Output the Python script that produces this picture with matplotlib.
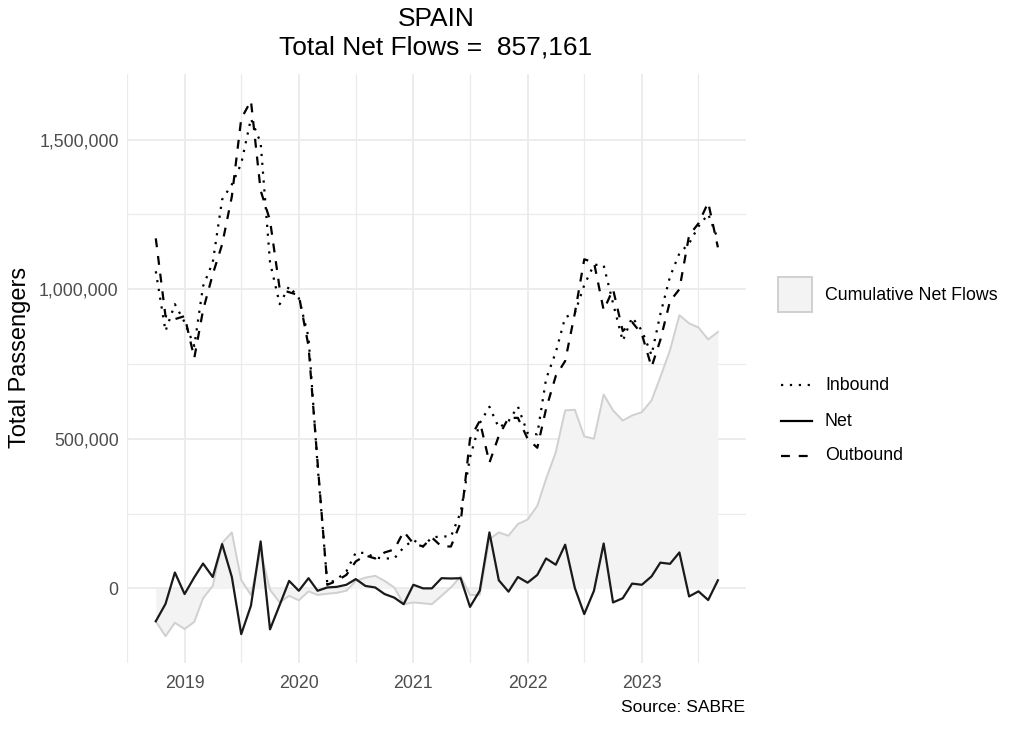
import matplotlib
matplotlib.use("Agg")
import matplotlib.pyplot as plt
import matplotlib.dates as mdates
from matplotlib.ticker import FuncFormatter, MultipleLocator
from matplotlib.patches import Rectangle
from matplotlib.lines import Line2D
import pandas as pd
import numpy as np

plt.rcParams['font.family'] = ['Liberation Sans', 'DejaVu Sans']

months = pd.date_range('2018-10-01', periods=60, freq='MS')

# values in thousands of passengers
net_k = [-110, -52, 53, -19, 37, 83, 38, 148, 38, -153,
         -58, 157, -137, -55, 25, -8, 34, -8, 3, 5,
         12, 31, 8, 3, -19, -31, -53, 12, 0, 0,
         34, 33, 34, -62, -8, 187, 27, -11, 38, 19,
         45, 100, 79, 146, 1, -86, -8, 150, -47, -33,
         16, 12, 40, 86, 82, 120, -27, -10, -39, 27]

cumulative_k = [-110, -160, -115, -136, -112, -33, 8, 152, 187, 28,
                -22, 125, -5, -47, -25, -40, -10, -22, -18, -15,
                -8, 25, 36, 42, 25, 3, -53, -47, -50, -53,
                -25, 3, 40, -22, -22, 165, 187, 176, 215, 230,
                276, 366, 455, 595, 597, 508, 500, 648, 595, 561,
                578, 589, 628, 706, 796, 913, 886, 872, 832, 857.161]

outbound_m = [1.17, 0.91, 0.90, 0.91, 0.77, 0.93, 1.05, 1.15, 1.31, 1.57,
              1.63, 1.33, 1.23, 1.00, 0.99, 0.98, 0.81, 0.42, 0.012, 0.025,
              0.045, 0.09, 0.11, 0.10, 0.12, 0.13, 0.19, 0.15, 0.14, 0.17,
              0.14, 0.14, 0.22, 0.50, 0.56, 0.42, 0.51, 0.57, 0.57, 0.50,
              0.47, 0.60, 0.71, 0.76, 0.92, 1.10, 1.09, 0.93, 1.00, 0.86,
              0.89, 0.85, 0.74, 0.83, 0.96, 1.00, 1.18, 1.22, 1.29, 1.14]

inbound_m = [1.06, 0.86, 0.95, 0.89, 0.81, 1.01, 1.09, 1.30, 1.35, 1.42,
             1.57, 1.49, 1.09, 0.95, 1.01, 0.97, 0.84, 0.41, 0.015, 0.03,
             0.057, 0.12, 0.118, 0.103, 0.10, 0.10, 0.137, 0.162, 0.14, 0.17,
             0.174, 0.173, 0.254, 0.438, 0.552, 0.607, 0.537, 0.559, 0.608, 0.519,
             0.515, 0.70, 0.789, 0.906, 0.921, 1.014, 1.082, 1.08, 0.953, 0.827,
             0.906, 0.862, 0.78, 0.916, 1.042, 1.12, 1.153, 1.21, 1.251, 1.167]

country = "SPAIN"
total_net = 857161
y_ticks = [0, 500000, 1000000, 1500000]
x_years = [2019, 2020, 2021, 2022, 2023]

net = np.array(net_k) * 1000
cumulative = np.array(cumulative_k) * 1000
outbound = np.array(outbound_m) * 1e6
inbound = np.array(inbound_m) * 1e6

fig = plt.figure(figsize=(10.24, 7.32), dpi=100)
ax = fig.add_axes([127/1024, 69/732, 619/1024, 589/732])

grid_col = '#EBEBEB'
ax.set_facecolor('white')
for s in ax.spines.values():
    s.set_visible(False)

ax.fill_between(months, 0, cumulative, color='#F3F3F3', lw=0, zorder=2)
ax.plot(months, cumulative, color='#D0D0D0', lw=1.4, zorder=3)
ax.plot(months, inbound, color='black', lw=1.6, linestyle=(0, (1, 3)), zorder=4)
ax.plot(months, net, color='#1A1A1A', lw=1.6, zorder=4)
ax.plot(months, outbound, color='black', lw=1.6, linestyle=(0, (4, 4)), zorder=4)

# axis limits with 5% expansion
xnum = mdates.date2num(months)
xr = xnum.max() - xnum.min()
ax.set_xlim(xnum.min() - 0.05 * xr, xnum.max() + 0.05 * xr)
allv = np.concatenate([net, cumulative, inbound, outbound])
yr = allv.max() - allv.min()
ax.set_ylim(allv.min() - 0.05 * yr, allv.max() + 0.05 * yr)

ax.set_yticks(y_ticks)
ax.yaxis.set_minor_locator(MultipleLocator(250000))
ax.yaxis.set_major_formatter(FuncFormatter(lambda v, p: f"{int(v):,}"))
major_x = [mdates.date2num(pd.Timestamp(f'{y}-01-01')) for y in x_years]
minor_x = [mdates.date2num(pd.Timestamp(f'{y}-07-01')) for y in [2018] + x_years]
ax.set_xticks(major_x)
ax.set_xticklabels([str(y) for y in x_years])
ax.set_xticks(minor_x, minor=True)
ax.grid(True, which='major', color=grid_col, lw=1.3, zorder=0)
ax.grid(True, which='minor', color=grid_col, lw=0.9, zorder=0)
ax.set_axisbelow(True)
ax.tick_params(axis='both', which='both', length=0, labelsize=12.8, labelcolor='#4D4D4D')
ax.tick_params(axis='x', pad=9)
ax.tick_params(axis='y', pad=6)
ax.set_ylabel('Total Passengers', fontsize=17, color='black', va='center')
ax.yaxis.set_label_coords((20 - 127) / 619, 0.518)

fig.text(436/1024, 1 - 19/732, country, ha='center', va='center', fontsize=19)
fig.text(436/1024, 1 - 48/732, f"Total Net Flows =  {total_net:,}", ha='center', va='center', fontsize=19)
fig.text(745/1024, 1 - 708/732, 'Source: SABRE', ha='right', va='center', fontsize=12.6)

# legend: fill key
fig.add_artist(Rectangle((778/1024, 1 - 312/732), 34/1024, 35/732, transform=fig.transFigure,
                         facecolor='#F3F3F3', edgecolor='#D0D0D0', lw=1.4))
fig.text(825/1024, 1 - 296/732, 'Cumulative Net Flows', ha='left', va='center', fontsize=12.8)
legend_items = [('Inbound', (0, (1, 3)), 385), ('Net', '-', 421), ('Outbound', (0, (4, 4)), 456)]
for label, ls, yy in legend_items:
    fig.add_artist(Line2D([781/1024, 812/1024], [1 - yy/732, 1 - yy/732], transform=fig.transFigure,
                          color='black', lw=1.6, linestyle=ls))
    fig.text(825/1024, 1 - yy/732, label, ha='left', va='center', fontsize=12.8)

fig.savefig('out.png', dpi=100)
